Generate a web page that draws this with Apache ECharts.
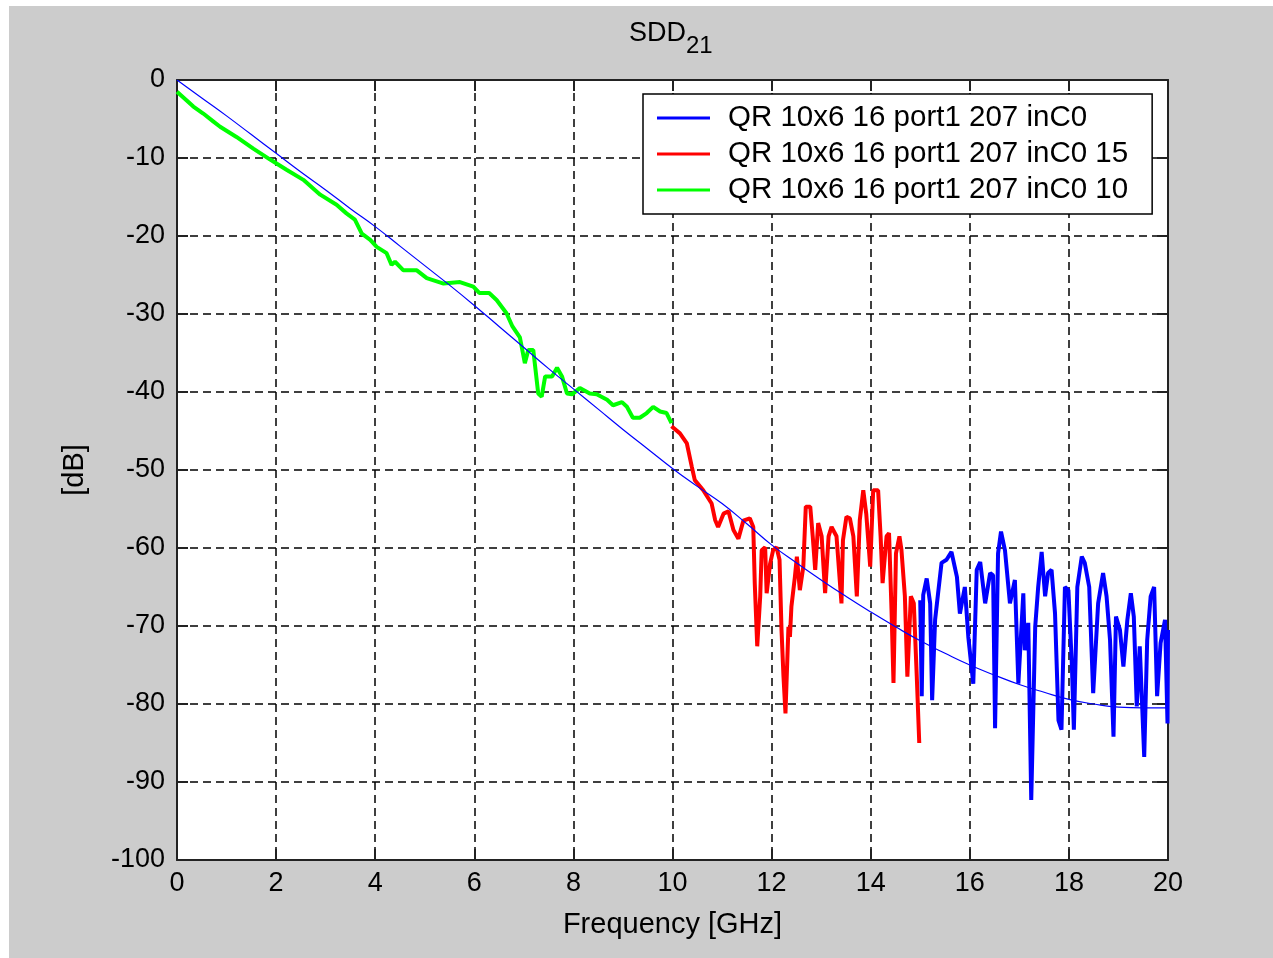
<!DOCTYPE html>
<html>
<head>
<meta charset="utf-8">
<script src="https://cdn.jsdelivr.net/npm/echarts@6/dist/echarts.min.js"></script>
<style>
  body { margin: 0; background: #fff; }
  #main { position: absolute; left: 9px; top: 6px; width: 1264px; height: 952px; }
</style>
</head>
<body>
<div id="main"></div>
<script>
  // names shown in the legend
  const seriesNames = ['QR 10x6 16 port1 207 inC0', 'QR 10x6 16 port1 207 inC0 15', 'QR 10x6 16 port1 207 inC0 10'];

  // smooth (thin) blue curve
  const fitFreq = [0, 0.5, 1, 1.5, 2, 2.5, 3, 3.5, 4, 4.5, 5, 5.5, 6, 6.5, 7, 7.5, 8, 8.5, 9, 9.5, 10,
    10.5, 11, 11.5, 12, 12.5, 13, 13.5, 14, 14.5, 15, 15.5, 16, 16.5, 17, 17.5, 18, 18.5, 19, 19.5, 20];
  const fitDb = [0, -2.3, -4.6, -7.0, -9.4, -11.8, -14.1, -16.5, -18.8, -21.3, -23.8, -26.3, -28.9, -31.6, -34.3, -37.0, -39.6, -42.2, -44.8, -47.3, -49.8,
    -52.1, -54.3, -56.9, -59.6, -61.9, -64.1, -66.2, -68.2, -70.1, -71.9, -73.5, -75.0, -76.3, -77.5, -78.5, -79.4, -80.0, -80.4, -80.5, -80.5];

  // green: 0 - 10 GHz
  const greenFreq = [0, 0.33, 0.53, 0.73, 0.87, 1.2, 1.54, 1.88, 2.21, 2.55, 2.89, 3.22, 3.42, 3.59, 3.73, 3.9, 4.03, 4.23, 4.33, 4.4, 4.57, 4.84,
    5.04, 5.38, 5.71, 5.98, 6.1, 6.3, 6.45, 6.65, 6.77, 6.92, 7.02, 7.09, 7.19, 7.29, 7.36, 7.43, 7.57, 7.67, 7.77, 7.87, 7.97,
    8.13, 8.33, 8.47, 8.68, 8.8, 8.98, 9.08, 9.2, 9.34, 9.48, 9.61, 9.75, 9.88, 9.98];
  const greenDb = [-1.5, -3.4, -4.3, -5.3, -6.0, -7.3, -8.8, -10.2, -11.5, -12.8, -14.7, -16.0, -17.1, -17.9, -19.7, -20.5, -21.4, -22.2, -23.7, -23.3, -24.4, -24.4,
    -25.4, -26.1, -25.9, -26.5, -27.3, -27.3, -28.2, -29.9, -31.6, -33.0, -36.3, -34.6, -34.6, -40.2, -40.6, -38.0, -38.0, -36.9, -38.0, -40.2, -40.3,
    -39.5, -40.2, -40.3, -41.0, -41.7, -41.3, -41.9, -43.3, -43.3, -42.7, -41.9, -42.5, -42.7, -44.0];

  // red: 10 - 15 GHz
  const redFreq = [9.98, 10.15, 10.29, 10.39, 10.45, 10.62, 10.79, 10.86, 10.92, 11.03, 11.13, 11.23, 11.33, 11.43, 11.56, 11.63, 11.66, 11.71, 11.77,
    11.8, 11.87, 11.9, 11.97, 12.03, 12.1, 12.16, 12.2, 12.24, 12.28, 12.34, 12.37, 12.4, 12.47, 12.51, 12.57, 12.64, 12.69, 12.78, 12.83, 12.88,
    12.94, 13.01, 13.08, 13.15, 13.21, 13.25, 13.31, 13.41, 13.44, 13.51, 13.58, 13.65, 13.72, 13.78, 13.85, 13.91, 13.99, 14.05, 14.15, 14.2,
    14.24, 14.32, 14.37, 14.42, 14.46, 14.51, 14.58, 14.62, 14.69, 14.74, 14.81, 14.87, 14.93, 14.98];
  const redDb = [-44.4, -45.3, -46.6, -49.6, -51.3, -52.6, -54.3, -56.4, -57.3, -55.6, -55.3, -57.7, -58.8, -56.5, -56.2, -57.3, -64.5, -72.6, -66.2,
    -60.3, -59.9, -65.8, -62.0, -60.3, -59.9, -61.5, -70.5, -76.5, -81.2, -70.1, -71.4, -67.5, -63.7, -61.1, -65.4, -62.4, -54.7, -54.7, -58.5, -62.8,
    -56.8, -58.5, -65.8, -58.5, -57.3, -57.3, -58.5, -67.1, -59.0, -56.0, -56.2, -58.5, -66.2, -56.4, -52.6, -55.6, -62.4, -52.6, -52.6, -58.5,
    -64.5, -58.5, -58.1, -67.9, -77.3, -60.7, -58.5, -60.2, -66.2, -76.5, -66.2, -67.1, -76.5, -85.0];

  // blue: 15 - 20 GHz
  const blueFreq = [15.0, 15.03, 15.06, 15.13, 15.2, 15.24, 15.3, 15.36, 15.43, 15.53, 15.63, 15.74, 15.8, 15.9, 15.97, 16.07, 16.14, 16.21, 16.31, 16.41,
    16.47, 16.51, 16.57, 16.63, 16.71, 16.81, 16.91, 16.98, 17.08, 17.11, 17.18, 17.24, 17.32, 17.38, 17.45, 17.52, 17.58, 17.65, 17.72, 17.79, 17.85,
    17.92, 17.99, 18.06, 18.1, 18.17, 18.26, 18.32, 18.41, 18.49, 18.59, 18.69, 18.76, 18.83, 18.9, 18.95, 19.03, 19.1, 19.18, 19.25, 19.31, 19.37,
    19.43, 19.52, 19.58, 19.65, 19.72, 19.78, 19.85, 19.94, 19.99, 20.0];
  const blueDb = [-66.7, -79.0, -66.0, -63.9, -67.1, -79.5, -69.2, -65.8, -61.9, -61.5, -60.5, -63.7, -68.4, -65.0, -71.4, -77.4, -62.8, -61.8, -67.1, -63.2,
    -63.5, -83.1, -60.7, -57.9, -60.3, -67.1, -64.1, -77.4, -65.8, -73.1, -69.6, -92.3, -70.1, -65.0, -60.5, -66.2, -63.2, -62.8, -68.4, -82.1, -83.3,
    -65.0, -65.4, -75.0, -83.3, -65.0, -61.1, -61.9, -65.0, -78.6, -67.1, -63.2, -66.2, -71.8, -84.2, -68.8, -70.5, -75.2, -69.2, -65.8, -68.8, -80.3,
    -72.6, -86.8, -71.8, -66.2, -65.0, -79.0, -72.2, -69.2, -82.5, -70.5];

  function pairs(xs, ys) {
    return xs.map(function (x, i) { return [x, ys[i]]; });
  }

  const font = "'Liberation Sans', Arial, sans-serif";
  let myChart = echarts.init(document.getElementById('main'));

  const gridLine = { show: true, lineStyle: { color: '#000', width: 1.5, type: [8, 5] } };
  const boxLine = { show: true, onZero: false, lineStyle: { color: '#222', width: 2 } };
  const boxTick = { show: true, inside: true, length: 11, lineStyle: { color: '#222', width: 2 } };

  myChart.setOption({
    animation: false,
    backgroundColor: '#cccccc',
    title: {
      text: '{a|SDD}{b|21}',
      left: 615,
      top: 9,
      textStyle: {
        rich: {
          a: { fontFamily: font, fontSize: 27, fontWeight: 'normal', color: '#000', verticalAlign: 'top' },
          b: { fontFamily: font, fontSize: 24, fontWeight: 'normal', color: '#000', verticalAlign: 'bottom', padding: [14, 0, 0, 0] }
        }
      }
    },
    legend: {
      data: seriesNames,
      orient: 'vertical',
      left: 634,
      top: 88,
      padding: [6, 24, 6, 14],
      itemGap: 0,
      icon: 'rect',
      itemWidth: 53,
      itemHeight: 3,
      backgroundColor: '#fff',
      borderColor: '#000',
      borderWidth: 1.5,
      borderRadius: 0,
      textStyle: { fontFamily: font, fontSize: 29.5, color: '#000', lineHeight: 36, padding: [0, 0, 0, 13] }
    },
    grid: {
      left: 168,
      top: 74,
      width: 991,
      height: 780,
      show: true,
      backgroundColor: '#fff',
      borderWidth: 0
    },
    xAxis: [
      {
        type: 'value',
        min: 0,
        max: 20,
        interval: 2,
        name: 'Frequency [GHz]',
        nameLocation: 'middle',
        nameGap: 50,
        nameTextStyle: { fontFamily: font, fontSize: 29, color: '#000' },
        axisLine: boxLine,
        axisTick: boxTick,
        axisLabel: { fontFamily: font, fontSize: 27, color: '#000', margin: 10 },
        splitLine: gridLine
      },
      {
        type: 'value',
        position: 'top',
        min: 0,
        max: 20,
        interval: 2,
        axisLine: boxLine,
        axisTick: boxTick,
        axisLabel: { show: false },
        splitLine: { show: false }
      }
    ],
    yAxis: [
      {
        type: 'value',
        min: -100,
        max: 0,
        interval: 10,
        name: '[dB]',
        nameLocation: 'middle',
        nameGap: 88,
        nameRotate: 90,
        nameTextStyle: { fontFamily: font, fontSize: 29, color: '#000' },
        axisLine: boxLine,
        axisTick: boxTick,
        axisLabel: { fontFamily: font, fontSize: 27, color: '#000', margin: 12 },
        splitLine: gridLine
      },
      {
        type: 'value',
        position: 'right',
        min: -100,
        max: 0,
        interval: 10,
        axisLine: boxLine,
        axisTick: boxTick,
        axisLabel: { show: false },
        splitLine: { show: false }
      }
    ],
    series: [
      {
        name: seriesNames[0],
        type: 'line',
        showSymbol: false,
        data: pairs(blueFreq, blueDb),
        lineStyle: { color: '#0000ff', width: 4 },
        itemStyle: { color: '#0000ff' },
        z: 3
      },
      {
        name: seriesNames[1],
        type: 'line',
        showSymbol: false,
        data: pairs(redFreq, redDb),
        lineStyle: { color: '#ff0000', width: 4 },
        itemStyle: { color: '#ff0000' },
        z: 3
      },
      {
        name: seriesNames[2],
        type: 'line',
        showSymbol: false,
        data: pairs(greenFreq, greenDb),
        lineStyle: { color: '#00ff00', width: 4 },
        itemStyle: { color: '#00ff00' },
        z: 3
      },
      {
        name: 'fit',
        type: 'line',
        smooth: true,
        showSymbol: false,
        data: pairs(fitFreq, fitDb),
        lineStyle: { color: '#0000ff', width: 1.2 },
        itemStyle: { color: '#0000ff' },
        z: 4
      }
    ]
  });
</script>
</body>
</html>
